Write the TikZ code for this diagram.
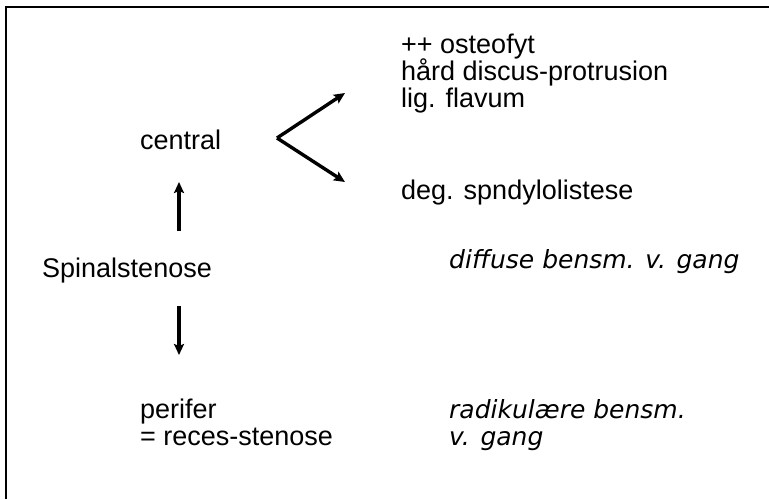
\documentclass[tikz,border=0pt]{standalone}
\usepackage{fontspec}
\setmainfont{Liberation Sans}
\newfontfamily\comicfont{DejaVu Sans}
\usetikzlibrary{arrows.meta}
\begin{document}
\begin{tikzpicture}[x=1pt,y=-1pt,
  lbl/.style={anchor=base west,inner sep=0pt,font=\fontsize{27}{27}\selectfont},
  note/.style={anchor=base west,inner sep=0pt,font=\fontsize{25}{27}\selectfont\comicfont\itshape},
  arr/.style={line width=3.4pt,-{Stealth[length=11pt,width=10pt,inset=2pt]}}]
\useasboundingbox (0,0) rectangle (769,499);
\draw[line width=2.2pt] (6,499) -- (6,7) -- (769,7);
% right column
\node[lbl] (ost) at (401,53) {++ osteofyt};
\node[lbl] (disc) at (401,80) {hård discus-protrusion};
\node[lbl] (lig) at (401,107) {lig. flavum};
\node[lbl] (deg) at (401,199) {deg. spndylolistese};
% left column
\node[lbl] (central) at (140,149) {central};
\node[lbl] (spinal) at (42,277) {Spinalstenose};
\node[lbl] (perifer) at (140,418) {perifer};
\node[lbl] (reces) at (140,445) {= reces-stenose};
% notes
\node[note] (diffuse) at (449,268) {diffuse bensm. v. gang};
\node[note] (radik) at (449,418) {radikulære bensm.};
\node[note] (vgang) at (449,445) {v. gang};
% arrows
\coordinate (apex) at (277,138);
\coordinate (tipup) at (345,93);
\coordinate (tipdown) at (345,182);
\draw[arr] (apex) -- (tipup);
\draw[arr] (apex) -- (tipdown);
\coordinate (uptail) at (179,231);
\coordinate (uphead) at (179,182);
\coordinate (downtail) at (179,306);
\coordinate (downhead) at (179,355);
\draw[arr] (uptail) -- (uphead);
\draw[arr] (downtail) -- (downhead);
\end{tikzpicture}
\end{document}
